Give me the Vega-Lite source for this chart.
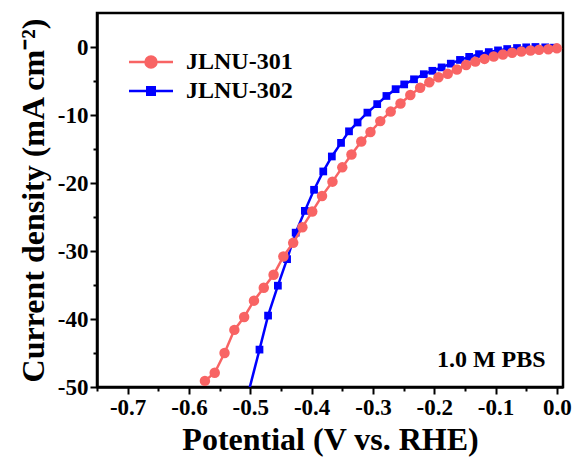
{
  "$schema": "https://vega.github.io/schema/vega-lite/v6.json",
  "width": 466,
  "height": 374,
  "autosize": {"type": "none"},
  "padding": {"left": 97, "top": 13, "right": 9, "bottom": 76},
  "background": "white",
  "config": {
    "font": "Liberation Serif",
    "view": {"stroke": "black", "strokeWidth": 2.5},
    "axis": {"grid": false}
  },
  "data": {
    "values": [
      {"series": "JLNU-301", "V": -0.574, "J": -49.1},
      {"series": "JLNU-301", "V": -0.558, "J": -47.9},
      {"series": "JLNU-301", "V": -0.542, "J": -45.0},
      {"series": "JLNU-301", "V": -0.526, "J": -41.6},
      {"series": "JLNU-301", "V": -0.510, "J": -39.7},
      {"series": "JLNU-301", "V": -0.494, "J": -37.3},
      {"series": "JLNU-301", "V": -0.478, "J": -35.4},
      {"series": "JLNU-301", "V": -0.462, "J": -33.5},
      {"series": "JLNU-301", "V": -0.446, "J": -30.8},
      {"series": "JLNU-301", "V": -0.430, "J": -28.8},
      {"series": "JLNU-301", "V": -0.415, "J": -26.5},
      {"series": "JLNU-301", "V": -0.399, "J": -24.2},
      {"series": "JLNU-301", "V": -0.383, "J": -21.9},
      {"series": "JLNU-301", "V": -0.366, "J": -19.8},
      {"series": "JLNU-301", "V": -0.350, "J": -17.7},
      {"series": "JLNU-301", "V": -0.335, "J": -15.8},
      {"series": "JLNU-301", "V": -0.319, "J": -13.9},
      {"series": "JLNU-301", "V": -0.304, "J": -12.5},
      {"series": "JLNU-301", "V": -0.288, "J": -10.9},
      {"series": "JLNU-301", "V": -0.271, "J": -9.5},
      {"series": "JLNU-301", "V": -0.255, "J": -8.3},
      {"series": "JLNU-301", "V": -0.239, "J": -7.05},
      {"series": "JLNU-301", "V": -0.223, "J": -6.0},
      {"series": "JLNU-301", "V": -0.208, "J": -5.2},
      {"series": "JLNU-301", "V": -0.193, "J": -4.45},
      {"series": "JLNU-301", "V": -0.178, "J": -3.95},
      {"series": "JLNU-301", "V": -0.163, "J": -3.3},
      {"series": "JLNU-301", "V": -0.148, "J": -2.65},
      {"series": "JLNU-301", "V": -0.133, "J": -2.15},
      {"series": "JLNU-301", "V": -0.118, "J": -1.75},
      {"series": "JLNU-301", "V": -0.103, "J": -1.4},
      {"series": "JLNU-301", "V": -0.088, "J": -1.1},
      {"series": "JLNU-301", "V": -0.073, "J": -0.85},
      {"series": "JLNU-301", "V": -0.058, "J": -0.65},
      {"series": "JLNU-301", "V": -0.043, "J": -0.52},
      {"series": "JLNU-301", "V": -0.029, "J": -0.42},
      {"series": "JLNU-301", "V": -0.014, "J": -0.32},
      {"series": "JLNU-301", "V": 0.0, "J": -0.2},
      {"series": "JLNU-302", "V": -0.515, "J": -55.0},
      {"series": "JLNU-302", "V": -0.485, "J": -44.5},
      {"series": "JLNU-302", "V": -0.471, "J": -39.5},
      {"series": "JLNU-302", "V": -0.455, "J": -35.1},
      {"series": "JLNU-302", "V": -0.440, "J": -31.2},
      {"series": "JLNU-302", "V": -0.426, "J": -27.3},
      {"series": "JLNU-302", "V": -0.411, "J": -24.1},
      {"series": "JLNU-302", "V": -0.396, "J": -21.0},
      {"series": "JLNU-302", "V": -0.381, "J": -18.3},
      {"series": "JLNU-302", "V": -0.367, "J": -16.1},
      {"series": "JLNU-302", "V": -0.352, "J": -14.1},
      {"series": "JLNU-302", "V": -0.339, "J": -12.4},
      {"series": "JLNU-302", "V": -0.325, "J": -11.1},
      {"series": "JLNU-302", "V": -0.309, "J": -9.65},
      {"series": "JLNU-302", "V": -0.293, "J": -8.4},
      {"series": "JLNU-302", "V": -0.278, "J": -7.2},
      {"series": "JLNU-302", "V": -0.263, "J": -6.2},
      {"series": "JLNU-302", "V": -0.249, "J": -5.5},
      {"series": "JLNU-302", "V": -0.233, "J": -4.75},
      {"series": "JLNU-302", "V": -0.217, "J": -4.0},
      {"series": "JLNU-302", "V": -0.203, "J": -3.5},
      {"series": "JLNU-302", "V": -0.188, "J": -3.0},
      {"series": "JLNU-302", "V": -0.173, "J": -2.45},
      {"series": "JLNU-302", "V": -0.158, "J": -1.9},
      {"series": "JLNU-302", "V": -0.143, "J": -1.45},
      {"series": "JLNU-302", "V": -0.127, "J": -1.05},
      {"series": "JLNU-302", "V": -0.111, "J": -0.75},
      {"series": "JLNU-302", "V": -0.096, "J": -0.5},
      {"series": "JLNU-302", "V": -0.081, "J": -0.3},
      {"series": "JLNU-302", "V": -0.065, "J": -0.15},
      {"series": "JLNU-302", "V": -0.050, "J": -0.05},
      {"series": "JLNU-302", "V": -0.035, "J": 0.0},
      {"series": "JLNU-302", "V": -0.019, "J": -0.05},
      {"series": "JLNU-302", "V": -0.005, "J": -0.1}
    ]
  },
  "resolve": {"axis": {"x": "independent", "y": "independent"}},
  "layer": [
    {
      "transform": [{"filter": "datum.series === 'JLNU-302'"}],
      "mark": {"type": "line", "strokeWidth": 2.5, "clip": true},
      "encoding": {
        "x": {
          "field": "V", "type": "quantitative",
          "scale": {"domain": [-0.75, 0.01], "nice": false, "zero": false},
          "axis": {
            "orient": "bottom",
            "values": [-0.7, -0.6, -0.5, -0.4, -0.3, -0.2, -0.1, 0],
            "labelExpr": "replace(format(datum.value, '.1f'), '\u2212', '-')",
            "title": "Potential (V vs. RHE)",
            "domainColor": "black", "domainWidth": 2.5,
            "tickColor": "black", "tickWidth": 2, "tickSize": 7,
            "labelFont": "Liberation Serif", "labelFontSize": 23, "labelFontWeight": "bold", "labelColor": "black",
            "labelPadding": 2, "labelFlush": false, "labelOverlap": false,
            "titleFont": "Liberation Serif", "titleFontSize": 32, "titleFontWeight": "bold", "titleColor": "black",
            "titlePadding": 5
          }
        },
        "y": {
          "field": "J", "type": "quantitative",
          "scale": {"domain": [-50, 5], "nice": false, "zero": false},
          "axis": {
            "orient": "left",
            "values": [-50, -40, -30, -20, -10, 0],
            "labelExpr": "replace(format(datum.value, 'd'), '\u2212', '-')",
            "title": "Current density (mA cm\u207B\u00B2)",
            "domainColor": "black", "domainWidth": 2.5,
            "tickColor": "black", "tickWidth": 2, "tickSize": 7,
            "labelFont": "Liberation Serif", "labelFontSize": 23, "labelFontWeight": "bold", "labelColor": "black",
            "labelPadding": 2, "labelOverlap": false, "labelFlush": false,
            "titleFont": "Liberation Serif", "titleFontSize": 32, "titleFontWeight": "bold", "titleColor": "black",
            "titlePadding": 7
          }
        },
        "color": {
          "field": "series", "type": "nominal",
          "scale": {"domain": ["JLNU-301", "JLNU-302"], "range": ["#F86464", "#0000FF"]},
          "legend": {
            "orient": "none", "legendX": 42, "legendY": 37, "title": null,
            "labelFont": "Liberation Serif", "labelFontSize": 24, "labelFontWeight": "bold", "labelColor": "black",
            "symbolSize": 121, "symbolStrokeWidth": 2, "labelOffset": 23, "rowPadding": 5,
            "encode": {
              "symbols": {
                "update": {
                  "shape": {"signal": "datum.value === 'JLNU-301' ? 'M-4,0H4M1,0A1,1,0,1,1,-1,0A1,1,0,1,1,1,0Z' : 'M-4,0H4M-0.68,-0.68H0.68V0.68H-0.68Z'"},
                  "fill": {"signal": "datum.value === 'JLNU-301' ? '#F86464' : '#0000FF'"},
                  "stroke": {"signal": "datum.value === 'JLNU-301' ? '#F86464' : '#0000FF'"},
                  "strokeWidth": {"value": 2.5},
                  "opacity": {"value": 1},
                  "fillOpacity": {"value": 1},
                  "strokeOpacity": {"value": 1}
                }
              }
            }
          }
        }
      }
    },
    {
      "transform": [{"filter": "datum.series === 'JLNU-302'"}],
      "mark": {"type": "point", "shape": "square", "filled": true, "size": 60, "opacity": 1, "clip": true},
      "encoding": {
        "x": {"field": "V", "type": "quantitative", "scale": {"domain": [-0.75, 0.01], "nice": false, "zero": false}, "axis": null},
        "y": {"field": "J", "type": "quantitative", "scale": {"domain": [-50, 5], "nice": false, "zero": false}, "axis": null},
        "color": {"field": "series", "type": "nominal", "legend": null}
      }
    },
    {
      "transform": [{"filter": "datum.series === 'JLNU-301'"}],
      "mark": {"type": "line", "strokeWidth": 2.5, "clip": true},
      "encoding": {
        "x": {"field": "V", "type": "quantitative", "scale": {"domain": [-0.75, 0.01], "nice": false, "zero": false}, "axis": null},
        "y": {"field": "J", "type": "quantitative", "scale": {"domain": [-50, 5], "nice": false, "zero": false}, "axis": null},
        "color": {"field": "series", "type": "nominal", "legend": null}
      }
    },
    {
      "transform": [{"filter": "datum.series === 'JLNU-301'"}],
      "mark": {"type": "point", "shape": "circle", "filled": true, "size": 110, "opacity": 1, "clip": true},
      "encoding": {
        "x": {
          "field": "V", "type": "quantitative",
          "scale": {"domain": [-0.75, 0.01], "nice": false, "zero": false},
          "axis": {
            "orient": "bottom",
            "values": [-0.75, -0.65, -0.55, -0.45, -0.35, -0.25, -0.15, -0.05],
            "labels": false, "domain": false, "title": null,
            "tickColor": "black", "tickWidth": 2, "tickSize": 4
          }
        },
        "y": {
          "field": "J", "type": "quantitative",
          "scale": {"domain": [-50, 5], "nice": false, "zero": false},
          "axis": {
            "orient": "left",
            "values": [-45, -35, -25, -15, -5],
            "labels": false, "domain": false, "title": null,
            "tickColor": "black", "tickWidth": 2, "tickSize": 4
          }
        },
        "color": {"field": "series", "type": "nominal", "legend": null}
      }
    },
    {
      "data": {"values": [{}]},
      "mark": {"type": "text", "text": "1.0 M PBS", "font": "Liberation Serif", "fontSize": 24, "fontWeight": "bold", "color": "black", "align": "center", "baseline": "alphabetic"},
      "encoding": {
        "x": {"datum": -0.107, "type": "quantitative", "axis": null},
        "y": {"datum": -47.1, "type": "quantitative", "axis": null}
      }
    }
  ]
}
